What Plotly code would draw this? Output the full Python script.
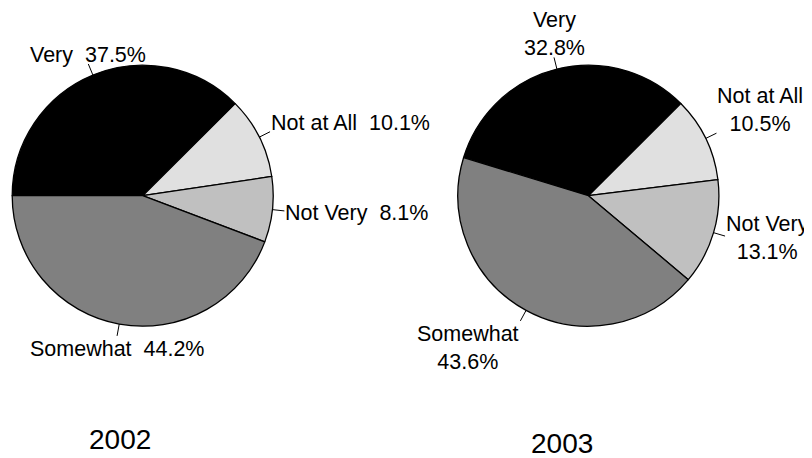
import math
import plotly.graph_objects as go

# dados
categorias = ['Very', 'Not at All', 'Not Very', 'Somewhat']
cores = ['#000000', '#e0e0e0', '#c0c0c0', '#808080']
pct_2002 = [37.5, 10.1, 8.1, 44.2]
pct_2003 = [32.8, 10.5, 13.1, 43.6]
anos = ['2002', '2003']

# a pagina tem margem de 8px no body, entao a figura fica menor e deslocada
OFF = 8
W, H = 812 - OFF, 458 - OFF
R = 130.5
FONTE = 'Liberation Sans, Arial, sans-serif'

# centro de cada pizza (px na tela), rotacao e formato do rotulo
pizzas = [
    dict(valores=pct_2002, cx=142.7, cy=195.7, rot=270, sep='  ', ano_xy=(120, 439.5)),
    dict(valores=pct_2003, cx=588.4, cy=195.7, rot=-73, sep='<br>', ano_xy=(562, 443.5)),
]


def px(x, y):
    # tela -> coordenadas paper
    return (x - OFF) / W, 1 - (y - OFF) / H


fig = go.Figure()
shapes = []
annotations = []

for p, ano in zip(pizzas, anos):
    cx, cy = p['cx'], p['cy']
    xa0, ya1 = px(cx - R, cy - R)
    xa1, ya0 = px(cx + R, cy + R)
    fig.add_trace(go.Pie(
        labels=categorias,
        values=p['valores'],
        sort=False,
        direction='clockwise',
        rotation=p['rot'],
        marker=dict(colors=cores, line=dict(color='black', width=1.3)),
        textinfo='none',
        hoverinfo='label+percent',
        domain=dict(x=[xa0, xa1], y=[ya0, ya1]),
    ))

    # rotulos com tracinho na direcao do meio de cada fatia
    total = sum(p['valores'])
    inicio = 90 - p['rot']
    acum = 0
    for cat, v in zip(categorias, p['valores']):
        meio = math.radians(inicio - (acum + v / 2) / total * 360)
        acum += v
        c, s = math.cos(meio), math.sin(meio)
        x0, y0 = px(cx + R * c, cy - R * s)
        x1, y1 = px(cx + (R + 12) * c, cy - (R + 12) * s)
        shapes.append(dict(type='line', xref='paper', yref='paper',
                           x0=x0, y0=y0, x1=x1, y1=y1,
                           line=dict(color='black', width=1)))
        xa = 'left' if c > 0.42 else ('right' if c < -0.42 else 'center')
        ya = 'bottom' if s > 0.35 else ('top' if s < -0.35 else 'middle')
        dy = {'bottom': -4, 'middle': -2, 'top': 0}[ya]
        annotations.append(dict(
            x=x1, y=y1, xref='paper', yref='paper',
            xanchor=xa, yanchor=ya, yshift=dy, showarrow=False, borderpad=0,
            text=f'{cat}{p["sep"]}{v:.1f}%', align='center',
            font=dict(family=FONTE, size=21.5, color='black'),
        ))

    ax, ay = px(*p['ano_xy'])
    annotations.append(dict(
        x=ax, y=ay, xref='paper', yref='paper',
        xanchor='center', yanchor='middle', showarrow=False, text=ano,
        font=dict(family=FONTE, size=28, color='black'),
    ))

fig.update_layout(
    width=W, height=H,
    margin=dict(l=0, r=0, t=0, b=0),
    paper_bgcolor='white',
    plot_bgcolor='white',
    showlegend=False,
    shapes=shapes,
    annotations=annotations,
)

fig.write_html('out.html')
